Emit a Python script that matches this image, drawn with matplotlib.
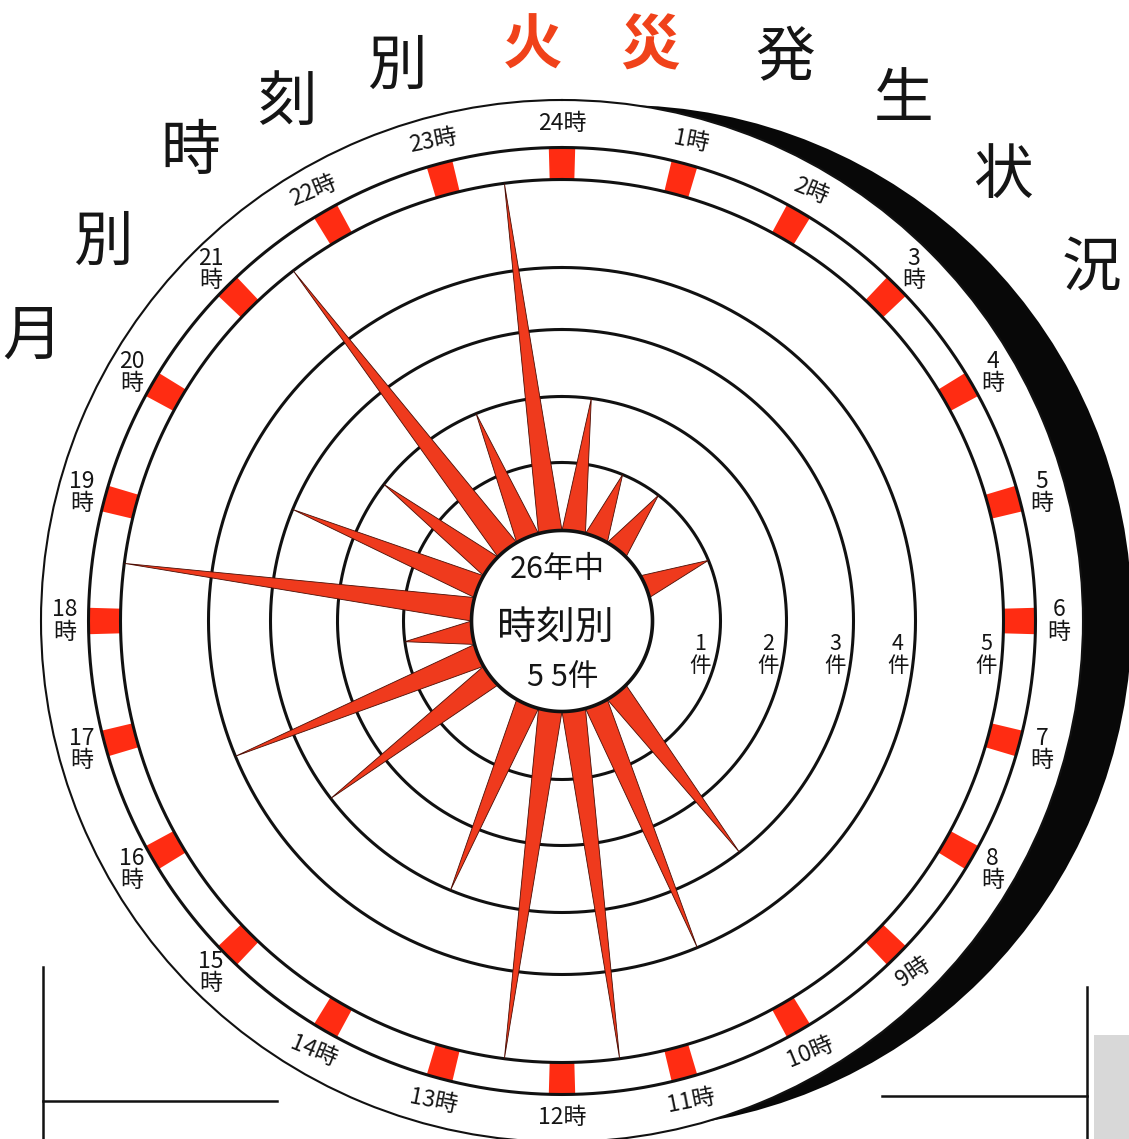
import numpy as np
import matplotlib
matplotlib.use("Agg")
import matplotlib.pyplot as plt
from matplotlib.patches import Circle, Rectangle

plt.rcParams['font.family'] = ['Noto Sans CJK JP', 'DejaVu Sans']

# ---------------- data ----------------
# fires per hour interval, starting with 0-1時 (clockwise from the top)
interval_start_hours = list(range(24))
fire_counts = [2, 1, 1, 0, 1, 0, 0, 0, 0, 3, 4, 5, 5, 3, 0, 3, 4, 1, 5, 3, 2, 5, 2, 5]
hour_numbers = [24] + list(range(1, 24))          # label at each hour mark
ring_values = [1, 2, 3, 4, 5]
ring_labels = ["1\n件", "2\n件", "3\n件", "4\n件", "5\n件"]
title_chars = ["月", "別", "時", "刻", "別", "火", "災", "発", "生", "状", "況"]
title_red = [False, False, False, False, False, True, True, False, False, False, False]
center_lines = ["26年中", "時刻別", "5 5件"]

# ---------------- layout ----------------
W, H = 1129, 1139
CX, CY = 562, 621
R_OUT = 521
KNOT_CNT = [-2, 0, 1, 2, 3, 4, 5, 7]
KNOT_PX = [90.5 - 136, 90.5, 158.5, 224.5, 291.5, 353.5, 441.5, 441.5 + 132]
BAND_OUT_PX = 473.5
LABEL_PX = 497

RED = '#ef3a1d'
MARK = '#ff2c12'
EDGE = '#4a0e05'


def fwd(x):
    return np.interp(x, KNOT_CNT, KNOT_PX)


def inv(y):
    return np.interp(y, KNOT_PX, KNOT_CNT)


fig = plt.figure(figsize=(W / 100, H / 100), dpi=100)
fig.patch.set_facecolor('white')

bg = fig.add_axes([0, 0, 1, 1], zorder=0)
bg.set_xlim(0, W)
bg.set_ylim(H, 0)
bg.axis('off')

# shadow crescent
bg.add_patch(Circle((CX + 58, CY - 4), 512, facecolor='#080808', edgecolor='none'))
# speckled corner
bg.add_patch(Rectangle((1094, 1035), 40, 110, facecolor='#d8d8d8', edgecolor='none'))

# frame lines at bottom
for xs, ys in [([43, 43], [967, 1139]), ([43, 277], [1101, 1101]),
               ([882, 1087], [1096, 1096]), ([1087, 1087], [987, 1139])]:
    bg.plot(xs, ys, color='#111111', lw=1.8)

# title
title_pos = [(32, 337), (103, 243), (190, 153), (287, 103), (397, 67),
             (533, 47), (650, 47), (785, 60), (904, 100), (1003, 177), (1092, 270)]
for ch, red, (x, y) in zip(title_chars, title_red, title_pos):
    bg.text(x, y, ch, fontsize=43, ha='center', va='center',
            color='#f0421a' if red else '#151515',
            fontweight='bold' if red else 'normal')

# ---------------- polar chart ----------------
ax = fig.add_axes([(CX - R_OUT) / W, (H - CY - R_OUT) / H, 2 * R_OUT / W, 2 * R_OUT / H],
                  projection='polar', zorder=1)
ax.set_theta_zero_location('N')
ax.set_theta_direction(-1)
ax.set_rscale('function', functions=(fwd, inv))
ax.set_rlim(float(inv(0)), float(inv(R_OUT)))
ax.grid(False)
ax.set_xticks([])
ax.set_yticks([])
ax.set_facecolor('white')
ax.spines['polar'].set_linewidth(1.5)
ax.spines['polar'].set_color('#111111')

tt = np.linspace(0, 2 * np.pi, 1441)

# rings
for k in ring_values:
    ax.plot(tt, np.full_like(tt, k), color='#111111', lw=2.2, zorder=2)
ax.plot(tt, np.full_like(tt, float(inv(BAND_OUT_PX))), color='#111111', lw=2.2, zorder=2)

# red hour marks in the band
hour_theta = np.deg2rad(np.array(interval_start_hours) * 15.0)
ax.bar(hour_theta, float(inv(BAND_OUT_PX)) - ring_values[-1], bottom=ring_values[-1],
       width=np.deg2rad(3.2), color=MARK, edgecolor='none', zorder=1.5)

# spikes
half = np.deg2rad(7.5)
for h, c in zip(interval_start_hours, fire_counts):
    if c <= 0:
        continue
    th = np.deg2rad((h + 0.5) * 15.0)
    ax.fill([th - half, th, th + half], [0, c, 0], facecolor=RED,
            edgecolor=EDGE, lw=0.6, zorder=3)

# centre disc
ax.fill(tt, np.zeros_like(tt), facecolor='white', edgecolor='#111111', lw=2.6, zorder=4)

# hour labels
stacked = {3, 4, 5, 6, 7, 8, 15, 16, 17, 18, 19, 20, 21}
r_lab = float(inv(LABEL_PX))
for h, num in zip(interval_start_hours, hour_numbers):
    deg = h * 15.0
    th = np.deg2rad(deg)
    if h in stacked:
        txt = f"{num}\n時"
        rot = 0
    else:
        txt = f"{num}時"
        if deg <= 90 or deg >= 270:
            rot = -deg if deg <= 90 else 360 - deg
        else:
            rot = 180 - deg
        rot *= 0.75
    ax.text(th, r_lab, txt, ha='center', va='center', rotation=rot,
            fontsize=16.5, linespacing=0.95, color='#151515', zorder=5)

# ring value labels
for k, lab in zip(ring_values, ring_labels):
    rp = float(fwd(k)) - 16
    th = np.pi / 2 + np.arcsin(34.0 / rp)
    ax.text(th, float(inv(rp)), lab, ha='center', va='center', fontsize=15.5,
            linespacing=1.0, color='#151515', zorder=5)

# centre text (overlay axes so it sits above the polar disc)
top = fig.add_axes([0, 0, 1, 1], zorder=2)
top.set_xlim(0, W)
top.set_ylim(H, 0)
top.axis('off')
for txt, (x, y), fs in zip(center_lines, [(557, 570), (555, 628), (563, 677)], [22, 28, 22]):
    top.text(x, y, txt, fontsize=fs, ha='center', va='center', color='#151515')

fig.savefig('out.png', dpi=100)
